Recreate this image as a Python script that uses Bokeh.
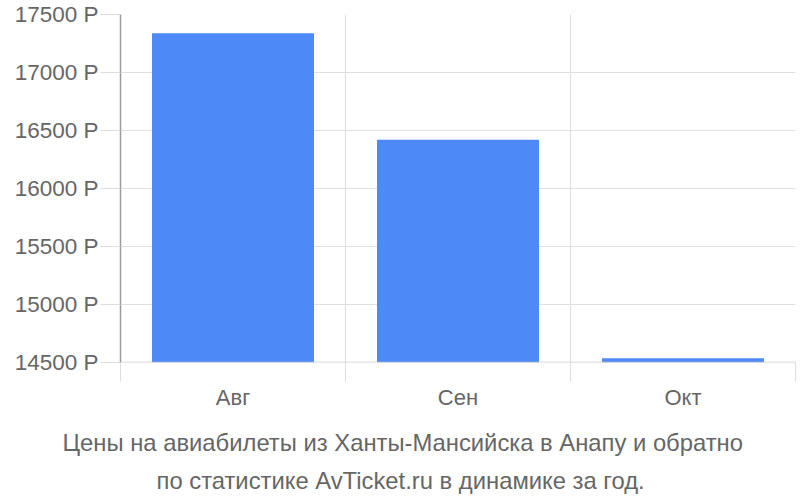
from bokeh.plotting import figure
from bokeh.models import FixedTicker, Range1d, Title, ColumnDataSource, Span
from bokeh.embed import file_html
from bokeh.resources import INLINE

months = ["Авг", "Сен", "Окт"]
prices = [17338, 16420, 14537]
y_ticks = [14500, 15000, 15500, 16000, 16500, 17000, 17500]
y_labels = [f"{t} Р" for t in y_ticks]
caption = ["Цены на авиабилеты из Ханты-Мансийска в Анапу и обратно",
           "по статистике AvTicket.ru в динамике за год."]

FONT = "Liberation Sans"
TXT = "#666666"

xs = [i + 0.5 for i in range(len(months))]
src = ColumnDataSource(dict(x=xs, top=prices))

p = figure(width=798, height=498, output_backend="svg", toolbar_location=None,
           x_range=Range1d(0, len(months)), y_range=Range1d(y_ticks[0], y_ticks[-1]),
           min_border_left=120, min_border_right=3, min_border_top=14, min_border_bottom=136)
p.outline_line_color = None
p.background_fill_color = "white"
p.border_fill_color = "white"

p.vbar(x="x", top="top", bottom=y_ticks[0], width=0.72, source=src,
       fill_color="#4e89f8", line_color=None)

# y axis
p.yaxis.ticker = FixedTicker(ticks=y_ticks)
p.yaxis.major_label_overrides = {t: l for t, l in zip(y_ticks, y_labels)}
p.yaxis.axis_line_color = "#9a9a9a"
p.yaxis.axis_line_width = 1.5
p.yaxis.major_tick_out = 20
p.yaxis.major_tick_in = 0
p.yaxis.major_tick_line_color = "#dddddd"
p.yaxis.minor_tick_line_color = None
p.yaxis.major_label_standoff = 2
p.yaxis.major_label_text_font = FONT
p.yaxis.major_label_text_font_size = "22.5px"
p.yaxis.major_label_text_color = TXT

# x axis
p.xaxis.ticker = FixedTicker(ticks=xs, minor_ticks=list(range(len(months) + 1)))
p.xaxis.major_label_overrides = {x: m for x, m in zip(xs, months)}
p.xaxis.axis_line_color = None
p.xaxis.major_tick_line_color = None
p.xaxis.major_tick_out = 0
p.xaxis.major_tick_in = 0
p.xaxis.minor_tick_out = 19
p.xaxis.minor_tick_in = 0
p.xaxis.minor_tick_line_color = "#dddddd"
p.xaxis.major_label_standoff = 3
p.xaxis.major_label_text_font = FONT
p.xaxis.major_label_text_font_size = "22px"
p.xaxis.major_label_text_color = TXT

# grids
p.xgrid.ticker = FixedTicker(ticks=list(range(len(months) + 1)))
p.xgrid.grid_line_color = "#dddddd"
p.ygrid.grid_line_color = "#e0e0e0"

p.add_layout(Span(location=y_ticks[0], dimension="width", line_color="#cccccc", line_width=1.5))

for i, (line, off) in enumerate(zip(caption, [-58, 36])):
    t = Title(text=line, align="left", text_font=FONT, text_font_size="23.8px",
              text_font_style="normal", text_color=TXT,
              standoff=28 if i == 0 else -10, offset=off)
    p.add_layout(t, "below")

open("out.html", "w").write(file_html(p, INLINE))
